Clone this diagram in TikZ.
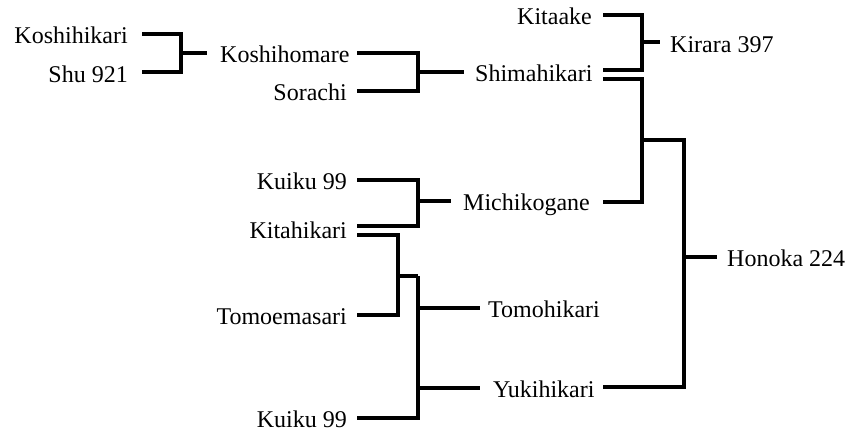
\documentclass[tikz,border=0pt]{standalone}
\usepackage{fontspec}
\setmainfont{Liberation Serif}
\begin{document}
\begin{tikzpicture}[x=1pt,y=-1pt,
  lbl/.style={font=\fontsize{24}{28}\selectfont, inner sep=0pt},
  link/.style={line width=3.6pt, line join=miter, line cap=butt}]
\useasboundingbox (0,0) rectangle (845,434);
% labels
\node[lbl, anchor=base east] (koshihikari) at (128,43) {Koshihikari};
\node[lbl, anchor=base east] (shu) at (128,82) {Shu 921};
\node[lbl, anchor=base west] (koshihomare) at (220,62) {Koshihomare};
\node[lbl, anchor=base east] (sorachi) at (347,100) {Sorachi};
\node[lbl, anchor=base west] (shimahikari) at (475,81) {Shimahikari};
\node[lbl, anchor=base east] (kitaake) at (592,24) {Kitaake};
\node[lbl, anchor=base west] (kirara) at (670,52) {Kirara 397};
\node[lbl, anchor=base east] (kuikuA) at (347,189) {Kuiku 99};
\node[lbl, anchor=base east] (kitahikari) at (347,238) {Kitahikari};
\node[lbl, anchor=base west] (michikogane) at (463,210) {Michikogane};
\node[lbl, anchor=base east] (tomoemasari) at (347,324) {Tomoemasari};
\node[lbl, anchor=base west] (tomohikari) at (488,317) {Tomohikari};
\node[lbl, anchor=base west] (yukihikari) at (493,397) {Yukihikari};
\node[lbl, anchor=base east] (kuikuB) at (347,427) {Kuiku 99};
\node[lbl, anchor=base west] (honoka) at (727,266) {Honoka 224};
% connector points
\coordinate (a1) at (142,34);  \coordinate (a2) at (142,72);
\coordinate (j1) at (181,53);  \coordinate (o1) at (207,53);
\coordinate (b1) at (357,53);  \coordinate (b2) at (357,91);
\coordinate (j2) at (418,72);  \coordinate (o2) at (464,72);
\coordinate (c1) at (603,15);  \coordinate (c2) at (603,70);
\coordinate (j3) at (642,42);  \coordinate (o3) at (660,42);
\coordinate (d1) at (603,79);  \coordinate (d2) at (603,202);
\coordinate (j4) at (642,140); \coordinate (j5) at (684,257);
\coordinate (e2) at (603,387); \coordinate (o5) at (717,257);
\coordinate (f1) at (357,180); \coordinate (f2) at (357,226);
\coordinate (j6) at (418,201); \coordinate (o6) at (451,201);
\coordinate (g1) at (357,235); \coordinate (g2) at (357,315);
\coordinate (j7) at (398,276); \coordinate (h2) at (357,418);
\coordinate (k1) at (418,276); \coordinate (k2) at (418,418);
\coordinate (t1) at (418,308); \coordinate (t2) at (480,308);
\coordinate (y1) at (418,388); \coordinate (y2) at (480,388);
% connectors
\draw[link] (a1) -| (j1) |- (a2);  \draw[link] (j1) -- (o1);
\draw[link] (b1) -| (j2) |- (b2);  \draw[link] (j2) -- (o2);
\draw[link] (c1) -| (j3) |- (c2);  \draw[link] (j3) -- (o3);
\draw[link] (d1) -| (j4) |- (d2);
\draw[link] (j4) -| (j5) |- (e2);  \draw[link] (j5) -- (o5);
\draw[link] (f1) -| (j6) |- (f2);  \draw[link] (j6) -- (o6);
\draw[link] (g1) -| (j7) |- (g2);  \draw[link] (j7) -- (k1);
\draw[link] (k1) -- (k2) -- (h2);
\draw[link] (t1) -- (t2);
\draw[link] (y1) -- (y2);
\end{tikzpicture}
\end{document}
